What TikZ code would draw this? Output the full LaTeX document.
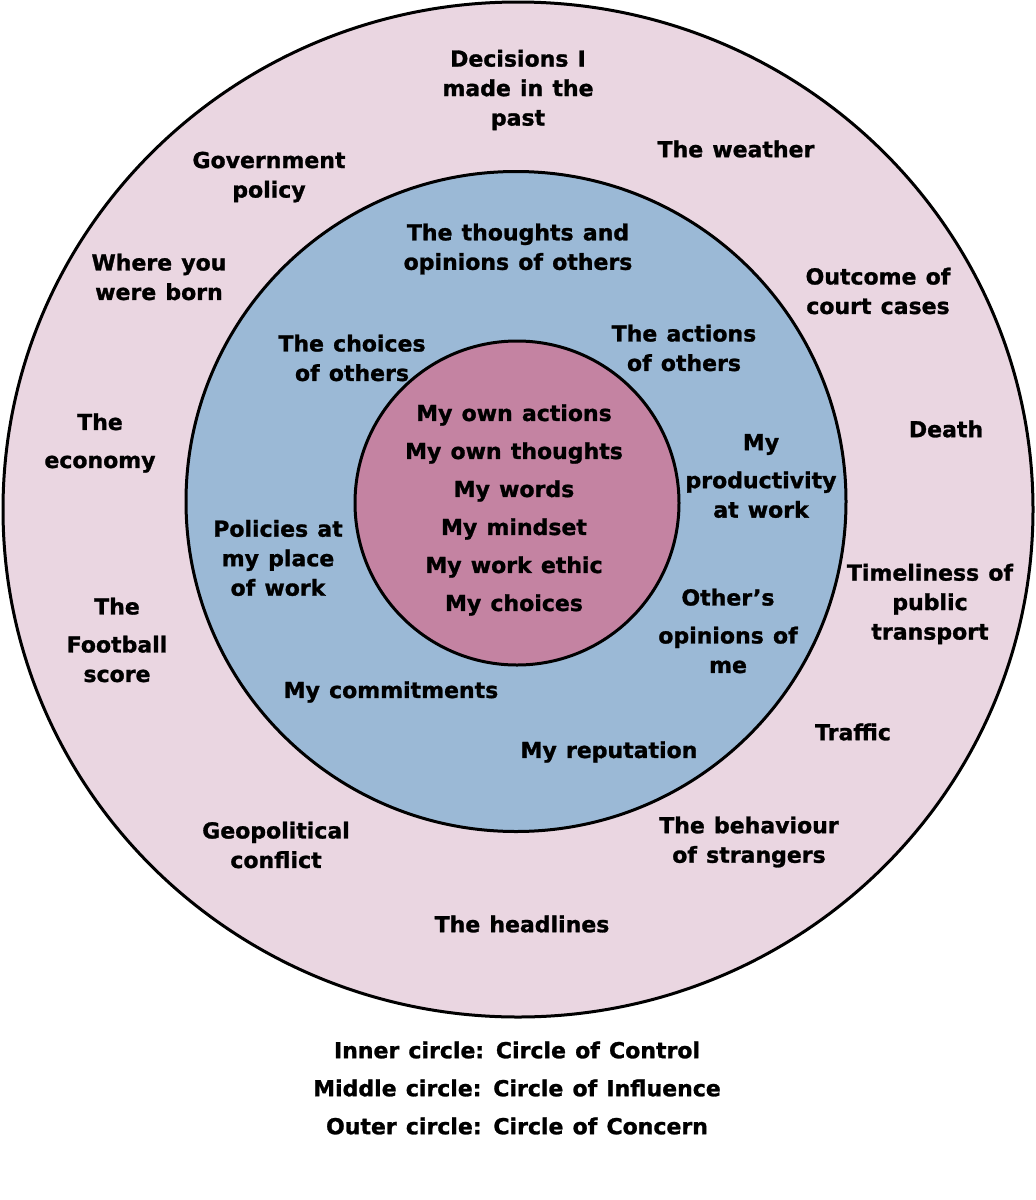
\documentclass[tikz,border=0pt]{standalone}
\usepackage{fontspec}
\setmainfont{DejaVu Sans}[WordSpace=1.2,BoldFeatures={FakeBold=1.2}]
\definecolor{concern}{RGB}{234,214,225}
\definecolor{influence}{RGB}{155,185,214}
\definecolor{control}{RGB}{196,131,162}
\begin{document}
\begin{tikzpicture}[x=1pt,y=-1pt,
  lb/.style={font=\bfseries\fontsize{22}{29.5}\selectfont,align=center,inner sep=0pt},
  ring/.style={draw=black,line width=3pt}]
  \useasboundingbox (0,0) rectangle (1036,1200);
  \fill[white] (0,0) rectangle (1036,1200);
  \draw[ring,fill=concern] (518,509.5) ellipse [x radius=515,y radius=507.5];
  \draw[ring,fill=influence] (516,501.5) circle [radius=330];
  \draw[ring,fill=control] (517,503) circle [radius=162];
  \node[lb] (o1) at (518,90){Decisions I\\made in the\\past};
  \node[lb] (o2) at (736,149){The weather};
  \node[lb] (o3) at (269,177){Government\\policy};
  \node[lb] (o4) at (159,277){Where you\\were born};
  \node[lb] (o5) at (878,291){Outcome of\\court cases};
  \node[lb] (o6) at (100,443){The\\[8.5pt]economy};
  \node[lb] (o7) at (946,429){Death};
  \node[lb] (o8) at (117,640){The\\[8.5pt]Football\\score};
  \node[lb] (o9) at (930,604){Timeliness of\\public\\transport};
  \node[lb] (o10) at (853,732){Traffic};
  \node[lb] (o11) at (276,845){Geopolitical\\conflict};
  \node[lb] (o12) at (749,842){The behaviour\\of strangers};
  \node[lb] (o13) at (522,924){The headlines};
  \node[lb] (m1) at (518,249){The thoughts and\\opinions of others};
  \node[lb] (m2) at (352,358){The choices\\of others};
  \node[lb] (m3) at (684,348){The actions\\of others};
  \node[lb] (m4) at (761,476){My\\[8.5pt]productivity\\at work};
  \node[lb] (m5) at (278,558){Policies at\\my place\\of work};
  \node[lb] (m6) at (728,631){Other’s\\[8.5pt]opinions of\\me};
  \node[lb] (m7) at (391,692){My commitments};
  \node[lb] (m8) at (609,752){My reputation};
  \node[lb,font=\bfseries\fontsize{22}{38}\selectfont] (c1) at (514,510){My own actions\\My own thoughts\\My words\\My mindset\\My work ethic\\My choices};
  \node[lb] (lg1) at (517,1050){Inner circle: Circle of Control};
  \node[lb] (lg2) at (517,1088){Middle circle: Circle of Influence};
  \node[lb] (lg3) at (517,1126){Outer circle: Circle of Concern};
\end{tikzpicture}
\end{document}
